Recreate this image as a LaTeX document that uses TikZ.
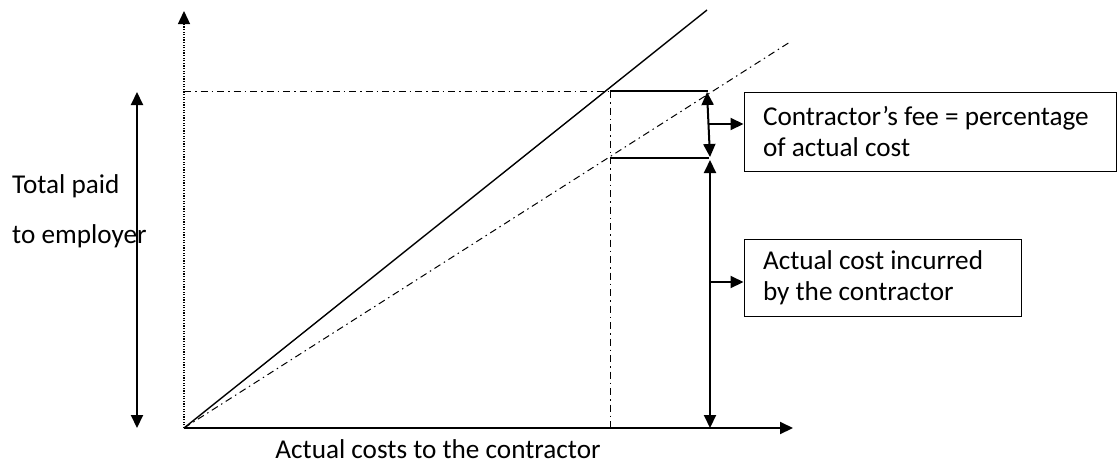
\documentclass[tikz,border=0pt]{standalone}
\usepackage{fontspec}
\setmainfont{Carlito}
\usetikzlibrary{arrows.meta}
\begin{document}
\begin{tikzpicture}[x=1pt,y=-1pt,
  tip/.style={-{Triangle[length=13pt,width=12pt]}},
  dtip/.style={{Triangle[length=13pt,width=12pt]}-{Triangle[length=13pt,width=12pt]}},
  heavy/.style={line width=2pt},
  dashdot/.style={line width=1pt,dash pattern=on 7pt off 4pt on 1.5pt off 4pt},
  label/.style={font=\fontsize{27.2}{31}\selectfont, inner sep=0pt},
  infobox/.style={draw, line width=1pt, font=\fontsize{27.2}{31}\selectfont,
    align=flush left, inner xsep=19pt, inner ysep=0pt}]
  \useasboundingbox (0,0) rectangle (1118,464);

  % axes
  \coordinate (O) at (184,428);
  \coordinate (ytop) at (184,11);
  \coordinate (xend) at (793,428);
  \draw[line width=1.3pt, dash pattern=on 1.3pt off 1.3pt, -{Triangle[length=13pt,width=12pt]}] (O) -- (ytop);
  \draw[heavy, tip] (O) -- (xend);

  % total price line and actual cost line
  \coordinate (solidEnd) at (707,10);
  \coordinate (costEnd) at (790,42);
  \draw[line width=1.4pt] (O) -- (solidEnd);
  \draw[dashdot] (O) -- (costEnd);

  % reading lines at the chosen cost
  \coordinate (P) at (610,91);
  \coordinate (Q) at (610,158);
  \coordinate (Pbase) at (610,428);
  \coordinate (yP) at (184,91);
  \draw[dashdot] (yP) -- (P);
  \draw[dashdot] (P) -- (Pbase);
  \coordinate (Pr) at (708,91);
  \coordinate (Qr) at (709,158);
  \draw[line width=1.2pt] (P) -- (Pr);
  \draw[line width=1.2pt] (Q) -- (Qr);

  % fee and cost dimension arrows
  \coordinate (feeTop) at (707,92);
  \coordinate (feeBot) at (710,157);
  \coordinate (costTop) at (710,160);
  \coordinate (costBot) at (710,428);
  \draw[heavy, dtip] (feeTop) -- (feeBot);
  \draw[heavy, dtip] (costTop) -- (costBot);

  % explanatory boxes
  \node[infobox, minimum width=372pt, minimum height=79pt, text width=334pt]
    (fee) at (930,131.5) {Contractor’s fee = percentage\\of actual cost};
  \node[infobox, minimum width=277pt, minimum height=77pt, text width=239pt]
    (cost) at (882.5,277.5) {Actual cost incurred\\by the contractor};
  \coordinate (feeMid) at (709,124);
  \coordinate (costMid) at (710,282);
  \draw[heavy, tip] (feeMid) -- (feeMid -| fee.west);
  \draw[heavy, tip] (costMid) -- (costMid -| cost.west);

  % total paid arrow
  \coordinate (tTop) at (137,92);
  \coordinate (tBot) at (137,428);
  \draw[heavy, dtip] (tTop) -- (tBot);

  % labels
  \node[label, anchor=base west] (tp1) at (12,193) {Total paid};
  \node[label, anchor=base west] (tp2) at (12,243) {to employer};
  \node[label, anchor=base] (xlab) at (438,458) {Actual costs to the contractor};
\end{tikzpicture}
\end{document}
